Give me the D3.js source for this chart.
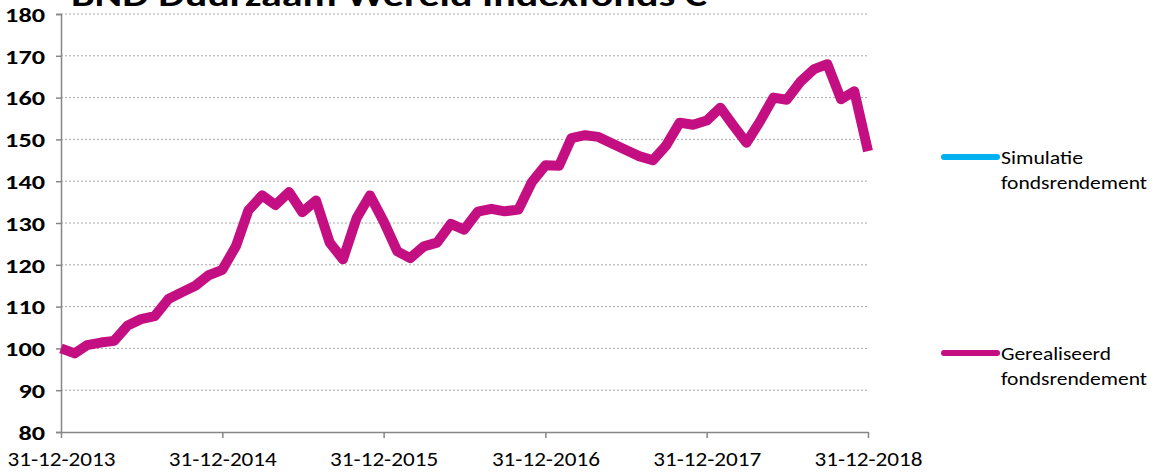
<!DOCTYPE html>
<html>
<head>
<meta charset="utf-8">
<script src="https://cdn.jsdelivr.net/npm/d3@7"></script>
<style>
  body { margin: 0; background: #fff; }
  svg { display: block; font-family: Carlito, Lato, "Open Sans", sans-serif; }
</style>
</head>
<body>
<svg id="chart" width="1154" height="472"></svg>
<script>
// series values, one per month end, 31-12-2013 .. 31-12-2018
const gerealiseerd = [100, 98.8, 100.8, 101.4, 101.8, 105.5, 107, 107.7, 111.8, 113.4, 115, 117.5,
    118.8, 124.5, 133, 136.6, 134.3, 137.4, 132.6, 135.4, 125.3, 121.3, 131.2, 136.6,
    130.4, 123.2, 121.6, 124.4, 125.3, 129.8, 128.4, 132.7, 133.4, 132.8, 133.2, 139.7,
    143.8, 143.7, 150.3, 151, 150.6, 149, 147.5, 146, 145, 148.5, 154, 153.5,
    154.5, 157.6, 153.5, 149.2, 154.2, 160, 159.5, 163.8, 166.8, 168, 159.6, 161.5,
    147.2]
const simulatie = []   // no simulated values drawn in this chart
const yTicks = [80, 90, 100, 110, 120, 130, 140, 150, 160, 170, 180]
const xTickLabels = ['31-12-2013', '31-12-2014', '31-12-2015', '31-12-2016', '31-12-2017', '31-12-2018']
const legendLabels = [['Simulatie', 'fondsrendement'], ['Gerealiseerd', 'fondsrendement']]
const title = 'BND Duurzaam Wereld Indexfonds C'

const parseDate = d3.timeParse('%d-%m-%Y')
const fmtDate = d3.timeFormat('%d-%m-%Y')
// month-end dates for the series
const start = parseDate(xTickLabels[0])
const dates = gerealiseerd.map((v, i) => d3.timeDay.offset(d3.timeMonth.offset(d3.timeMonth.floor(start), i + 1), -1))

const svg = d3.select('#chart')
const margin = {top: 14, left: 61, right: 286, bottom: 40}
const width = 1154, height = 472

const x = d3.scaleTime()
    .domain([parseDate(xTickLabels[0]), parseDate(xTickLabels[xTickLabels.length - 1])])
    .range([margin.left, width - margin.right])
const y = d3.scaleLinear()
    .domain([80, 180])
    .range([height - margin.bottom, margin.top])

// gridlines
svg.append('g')
    .selectAll('line')
    .data(yTicks.filter(t => t > 80))
    .join('line')
    .attr('x1', margin.left)
    .attr('x2', width - margin.right)
    .attr('y1', d => y(d))
    .attr('y2', d => y(d))
    .attr('stroke', '#a6a6a6')
    .attr('stroke-width', 1)
    .attr('stroke-dasharray', '2,2')

// y axis
const yAxis = svg.append('g')
    .attr('transform', `translate(${margin.left},0)`)
    .call(d3.axisLeft(y).tickValues(yTicks).tickSize(5).tickPadding(11))
yAxis.select('.domain').attr('stroke', '#868686').attr('stroke-width', 1.5)
yAxis.selectAll('.tick line').attr('stroke', '#868686').attr('stroke-width', 1.5)
yAxis.selectAll('.tick text')
    .attr('font-size', '20px')
    .attr('font-weight', 'bold')
    .attr('fill', '#000')
    .attr('font-family', 'Carlito, Lato, sans-serif')
    .attr('dy', '0.36em')
    .attr('textLength', d => String(d).length * 13.3)
    .attr('lengthAdjust', 'spacingAndGlyphs')

// x axis
const xAxis = svg.append('g')
    .attr('transform', `translate(0,${height - margin.bottom})`)
    .call(d3.axisBottom(x)
        .tickValues(xTickLabels.map(parseDate))
        .tickFormat(fmtDate)
        .tickSize(6).tickSizeOuter(0).tickPadding(14))
xAxis.select('.domain').attr('stroke', '#868686').attr('stroke-width', 1.5)
xAxis.selectAll('.tick line').attr('stroke', '#868686').attr('stroke-width', 1.5)
xAxis.selectAll('.tick text')
    .attr('font-size', '20px')
    .attr('fill', '#000')
    .attr('font-family', 'Carlito, Lato, sans-serif')
    .attr('textLength', 108)
    .attr('lengthAdjust', 'spacingAndGlyphs')

// lines
const line = d3.line()
    .x((d, i) => x(dates[i]))
    .y(d => y(d))

svg.append('path')
    .datum(simulatie)
    .attr('d', line)
    .attr('fill', 'none')
    .attr('stroke', '#00b0f0')
    .attr('stroke-width', 10)

svg.append('path')
    .datum(gerealiseerd)
    .attr('d', line)
    .attr('fill', 'none')
    .attr('stroke', '#c40f82')
    .attr('stroke-width', 10)
    .attr('stroke-linejoin', 'round')

// title, partly above the page edge as in the original
svg.append('text')
    .attr('x', 71)
    .attr('y', 6)
    .attr('font-size', '33px')
    .attr('font-weight', 'bold')
    .attr('textLength', 636)
    .attr('lengthAdjust', 'spacingAndGlyphs')
    .attr('font-family', 'Carlito, Lato, sans-serif')
    .text(title)

// legend
const legendColors = ['#00b0f0', '#c40f82']
const legendY = [157, 353]
const legendWidths = {'Simulatie': 82, 'Gerealiseerd': 110, 'fondsrendement': 146}
const legend = svg.append('g')
legendLabels.forEach((lab, k) => {
    legend.append('line')
        .attr('x1', 944).attr('x2', 997)
        .attr('y1', legendY[k]).attr('y2', legendY[k])
        .attr('stroke', legendColors[k])
        .attr('stroke-width', 6)
        .attr('stroke-linecap', 'round')
    lab.forEach((s, j) => {
        legend.append('text')
            .attr('x', 1001)
            .attr('y', legendY[k] + 7 + j * 24.5)
            .attr('font-size', '19px')
            .attr('fill', '#000')
            .attr('textLength', legendWidths[s])
            .attr('lengthAdjust', 'spacingAndGlyphs')
            .text(s)
    })
})
</script>
</body>
</html>
